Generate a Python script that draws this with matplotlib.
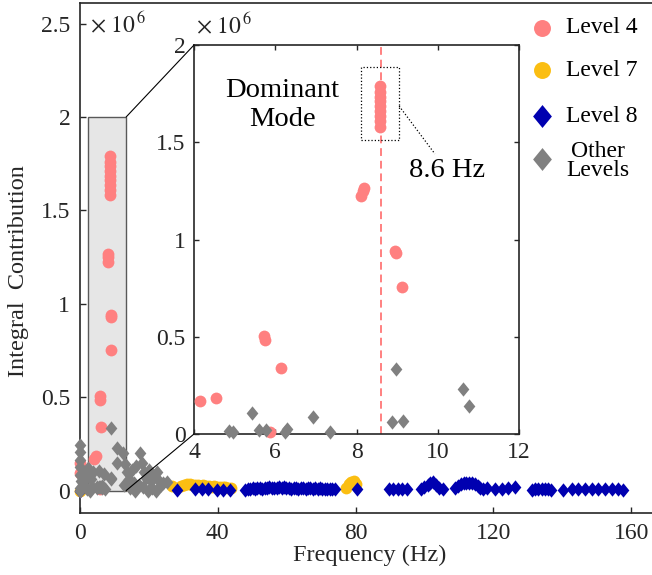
import numpy as np
import matplotlib
matplotlib.use("Agg")
import matplotlib.pyplot as plt
from matplotlib.patches import Rectangle, ConnectionPatch
from matplotlib.path import Path
from matplotlib.ticker import FuncFormatter

plt.rcParams['font.family'] = 'serif'
plt.rcParams['font.serif'] = ['Liberation Serif', 'DejaVu Serif']
plt.rcParams['mathtext.fontset'] = 'stix'

# ---- data (frequency in Hz, contribution in units of 1e6) ----
lvl4_f = [0.1, 0.0, 4.15, 4.54, 5.72, 5.75, 5.87, 6.15, 8.10, 8.15, 8.18,
          8.58, 8.58, 8.58, 8.58, 8.58, 8.58, 8.58, 8.58, 8.58,
          8.95, 8.97, 9.11]
lvl4_v = [0.145, 0.095, 0.17, 0.186, 0.505, 0.485, 0.01, 0.34, 1.225, 1.25, 1.265,
          1.58, 1.61, 1.635, 1.66, 1.685, 1.71, 1.735, 1.76, 1.79,
          0.94, 0.93, 0.755]

lvl7_f = [0.0, 13.9, 26.6, 29.3, 30.2, 31.0, 31.8, 32.6, 33.4, 34.2, 35.0, 35.8,
          36.6, 37.4, 38.2, 39.0, 39.8, 40.6, 41.4, 42.2, 43.0, 43.9,
          77.2, 78.0, 78.8, 79.5, 80.2]
lvl7_v = [0.0, 0.03, 0.025, 0.025, 0.03, 0.035, 0.035, 0.03, 0.03, 0.03, 0.025, 0.03,
          0.025, 0.025, 0.02, 0.025, 0.02, 0.02, 0.018, 0.018, 0.015, 0.012,
          0.015, 0.035, 0.045, 0.05, 0.035]

lvl8_f = [0.0, 28.1, 33.4, 35.3, 37.2, 39.7, 41.5, 43.6,
          48.0, 48.7, 49.4, 50.1, 50.8, 51.5, 52.2, 52.9, 53.6, 54.3, 55.0, 55.7,
          56.4, 57.1, 57.8, 58.5, 59.2, 59.9, 60.6, 61.3, 62.0, 62.7, 63.4, 64.1,
          64.8, 65.5, 66.2, 66.9, 67.6, 68.3, 69.0, 69.7, 70.4, 71.1, 71.8, 72.5,
          73.2, 74.0, 80.5,
          89.6, 90.9, 92.2, 93.5, 94.8,
          98.9, 99.9, 100.9, 101.7, 102.5, 103.3, 104.2, 105.3,
          109.0, 109.8, 110.6, 111.4, 112.2, 113.0, 113.8, 114.6, 115.4, 116.2,
          117.0, 118.1, 120.5, 122.4, 124.3, 126.3,
          131.3, 132.2, 133.1, 134.0, 134.9, 135.8, 136.8,
          140.2, 142.9, 144.6, 146.6, 148.7, 150.4, 152.4, 154.5, 156.2, 157.7]
lvl8_v = [0.0, 0.005, 0.01, 0.01, 0.01, 0.005, 0.005, 0.005,
          0.005, 0.01, 0.008, 0.012, 0.01, 0.012, 0.015, 0.01, 0.015, 0.012, 0.018, 0.015,
          0.012, 0.015, 0.02, 0.015, 0.018, 0.012, 0.015, 0.01, 0.015, 0.012, 0.01, 0.015,
          0.012, 0.01, 0.015, 0.012, 0.01, 0.012, 0.01, 0.012, 0.01, 0.008, 0.01, 0.008,
          0.01, 0.008, 0.008,
          0.008, 0.01, 0.01, 0.01, 0.008,
          0.01, 0.02, 0.03, 0.04, 0.048, 0.03, 0.015, 0.01,
          0.015, 0.025, 0.035, 0.04, 0.042, 0.042, 0.04, 0.035, 0.025, 0.015,
          0.01, 0.012, 0.008, 0.01, 0.012, 0.02,
          0.005, 0.008, 0.01, 0.01, 0.01, 0.008, 0.005,
          0.005, 0.008, 0.008, 0.01, 0.01, 0.01, 0.01, 0.01, 0.008, 0.005]

other_f = [0.0, 0.0, 0.0, 0.1, 0.0, 0.2, 0.0, 0.1, 1.0, 1.6, 2.3, 2.8, 3.3, 3.7,
           1.3, 2.1, 3.0, 3.6,
           4.87, 4.95, 5.42, 5.60, 5.77, 6.25, 6.28, 6.92, 7.35, 8.87, 9.14, 8.97,
           10.61, 10.76,
           12.5, 13.0, 13.6, 14.3, 15.0, 15.6, 16.3, 17.4, 17.9, 18.6, 19.3, 20.0,
           20.7, 21.4, 22.3, 22.9, 23.6, 24.1, 25.2, 12.8, 14.6, 16.0, 17.0, 18.2,
           19.8, 21.0, 22.0]
other_v = [0.243, 0.205, 0.165, 0.125, 0.085, 0.05, 0.015, 0.0, 0.1, 0.07, 0.12, 0.09,
           0.06, 0.1, 0.03, 0.01, 0.0, 0.02,
           0.017, 0.012, 0.107, 0.02, 0.02, 0.012, 0.025, 0.089, 0.01, 0.06, 0.068, 0.333,
           0.229, 0.145,
           0.2, 0.14, 0.1, 0.06, 0.11, 0.04, 0.13, 0.2, 0.15, 0.1, 0.07, 0.11,
           0.05, 0.08, 0.1, 0.05, 0.03, 0.04, 0.047, 0.03, 0.015, 0.0, 0.03, 0.02,
           0.0, 0.015, 0.0]

dominant_f = 8.6
x_ticks = [0, 40, 80, 120, 160]
y_ticks = [0, 0.5, 1, 1.5, 2, 2.5]
inset_x_ticks = [4, 6, 8, 10, 12]
inset_y_ticks = [0, 0.5, 1, 1.5, 2]

# ---- styles ----
c4, c7, c8, cO = '#FF8080', '#FBBE12', '#0000B0', '#808080'
diamond = Path([(0, 1), (0.82, 0), (0, -1), (-0.82, 0), (0, 1)],
               [Path.MOVETO, Path.LINETO, Path.LINETO, Path.LINETO, Path.CLOSEPOLY])
series = [
    (lvl4_f, lvl4_v, 'o', 8.5, c4, 'Level 4'),
    (lvl7_f, lvl7_v, 'o', 8.5, c7, 'Level 7'),
    (lvl8_f, lvl8_v, diamond, 10.3, c8, 'Level 8'),
    (other_f, other_v, diamond, 10.3, cO, 'Other\nLevels'),
]

W, H = 652, 575
fig = plt.figure(figsize=(W / 100, H / 100), dpi=100)
ax_l, ax_r, ax_b, ax_t = 80, 658, 513, 3
ax = fig.add_axes([ax_l / W, 1 - ax_b / H, (ax_r - ax_l) / W, (ax_b - ax_t) / H])

fmt = FuncFormatter(lambda v, p: '%g' % v)

for f, v, m, ms, c, lab in series:
    ax.plot(f, v, ls='none', marker=m, ms=ms, mfc=c, mec='none', zorder=3, clip_on=False)

ax.set_xlim(0, 167.8)
ax.set_ylim(-0.12, 2.61)
ax.set_xticks(x_ticks)
ax.set_yticks(y_ticks)
ax.xaxis.set_major_formatter(fmt)
ax.yaxis.set_major_formatter(fmt)
ax.tick_params(direction='in', length=4.5, width=1, labelsize=17, pad=7,
               top=False, right=False, colors='#262626', labelcolor='#262626')
for s in ax.spines.values():
    s.set_linewidth(1.2)
    s.set_color('#262626')

ax.set_xlabel('Frequency (Hz)', fontsize=17.5, color='#262626')
ax.xaxis.set_label_coords(0.502, -0.0627)
ax.set_ylabel('Integral  Contribution', fontsize=17.5, color='#262626')
ax.yaxis.set_label_coords(-0.089, 0.4745)

# zoom window on the main axes
rx0, rx1 = 2.3, 13.4
zoom_rect = Rectangle((rx0, 0), rx1 - rx0, 2.0, fc='#E6E6E6', ec='#595959', lw=1.0, zorder=1)
ax.add_patch(zoom_rect)

# legend drawn in axes fraction
def fx(px):
    return (px - ax_l) / (ax_r - ax_l)

def fy(py):
    return (ax_b - py) / (ax_b - ax_t)

leg_rows = [27.5, 70, 116, 159]
leg_ms = [12.2, 12.2, 16.5, 16.5]
for (f, v, m, ms, c, lab), yrow, lms in zip(series, leg_rows, leg_ms):
    ax.plot([fx(541.7)], [fy(yrow)], ls='none', marker=m, ms=lms, mfc=c, mec='none',
            transform=ax.transAxes, clip_on=False)
    if '\n' in lab:
        ax.text(fx(598), fy(yrow + 2), lab, transform=ax.transAxes, ha='center', va='center',
                fontsize=17, linespacing=0.92, multialignment='center')
    else:
        ax.text(fx(566), fy(yrow), lab, transform=ax.transAxes, ha='left', va='center',
                fontsize=17)

fig.text(90 / W, 1 - 32 / H, r'$\times\ 10^{\,6}$', fontsize=17, ha='left', va='baseline',
         color='#262626')

# ---- inset ----
in_l, in_r, in_b, in_t = 194, 519, 434, 45
axins = fig.add_axes([in_l / W, 1 - in_b / H, (in_r - in_l) / W, (in_b - in_t) / H])
axins.set_xlim(4, 12)
axins.set_ylim(0, 2)
axins.axvline(dominant_f, color=c4, ls=(0, (4, 2.5)), lw=1.4, zorder=1)
for f, v, m, ms, c, lab in series:
    f = np.asarray(f)
    v = np.asarray(v)
    keep = (f >= 4) & (f <= 12) & (v <= 2)
    axins.plot(f[keep], v[keep], ls='none', marker=m, ms=ms, mfc=c, mec='none',
               zorder=3, clip_on=False)
axins.set_xticks(inset_x_ticks)
axins.set_yticks(inset_y_ticks)
axins.xaxis.set_major_formatter(fmt)
axins.yaxis.set_major_formatter(fmt)
axins.tick_params(direction='in', length=3.5, width=1, labelsize=17, pad=6,
                  top=True, right=True, colors='#262626', labelcolor='#262626')
for s in axins.spines.values():
    s.set_linewidth(1.2)
    s.set_color('#262626')

fig.text(196 / W, 1 - 33 / H, r'$\times\ 10^{\,6}$', fontsize=17, ha='left', va='baseline',
         color='#262626')

# highlight of the dominant mode
box_x0, box_x1, box_y0, box_y1 = 8.11, 9.05, 1.512, 1.887
axins.add_patch(Rectangle((box_x0, box_y0), box_x1 - box_x0, box_y1 - box_y0, fill=False,
                          ls=':', lw=0.9, ec='k', zorder=4))
axins.plot([box_x1, 9.93], [1.686, 1.44], ls=':', lw=0.9, color='k', zorder=4)
axins.text(10.23, 1.357, '%g Hz' % dominant_f, ha='center', va='center', fontsize=20.5)
axins.text(6.18, 1.69, 'Dominant\nMode', ha='center', va='center', fontsize=20.5,
           linespacing=1.2)

# connector lines between zoom window and inset
for ya, yb in [(2.0, 1.0), (0.0, 0.0)]:
    con = ConnectionPatch(xyA=(rx1, ya), coordsA=ax.transData, xyB=(0, yb),
                          coordsB=axins.transAxes, color='k', lw=0.8, zorder=2)
    fig.add_artist(con)

fig.savefig('out.png', dpi=100)
